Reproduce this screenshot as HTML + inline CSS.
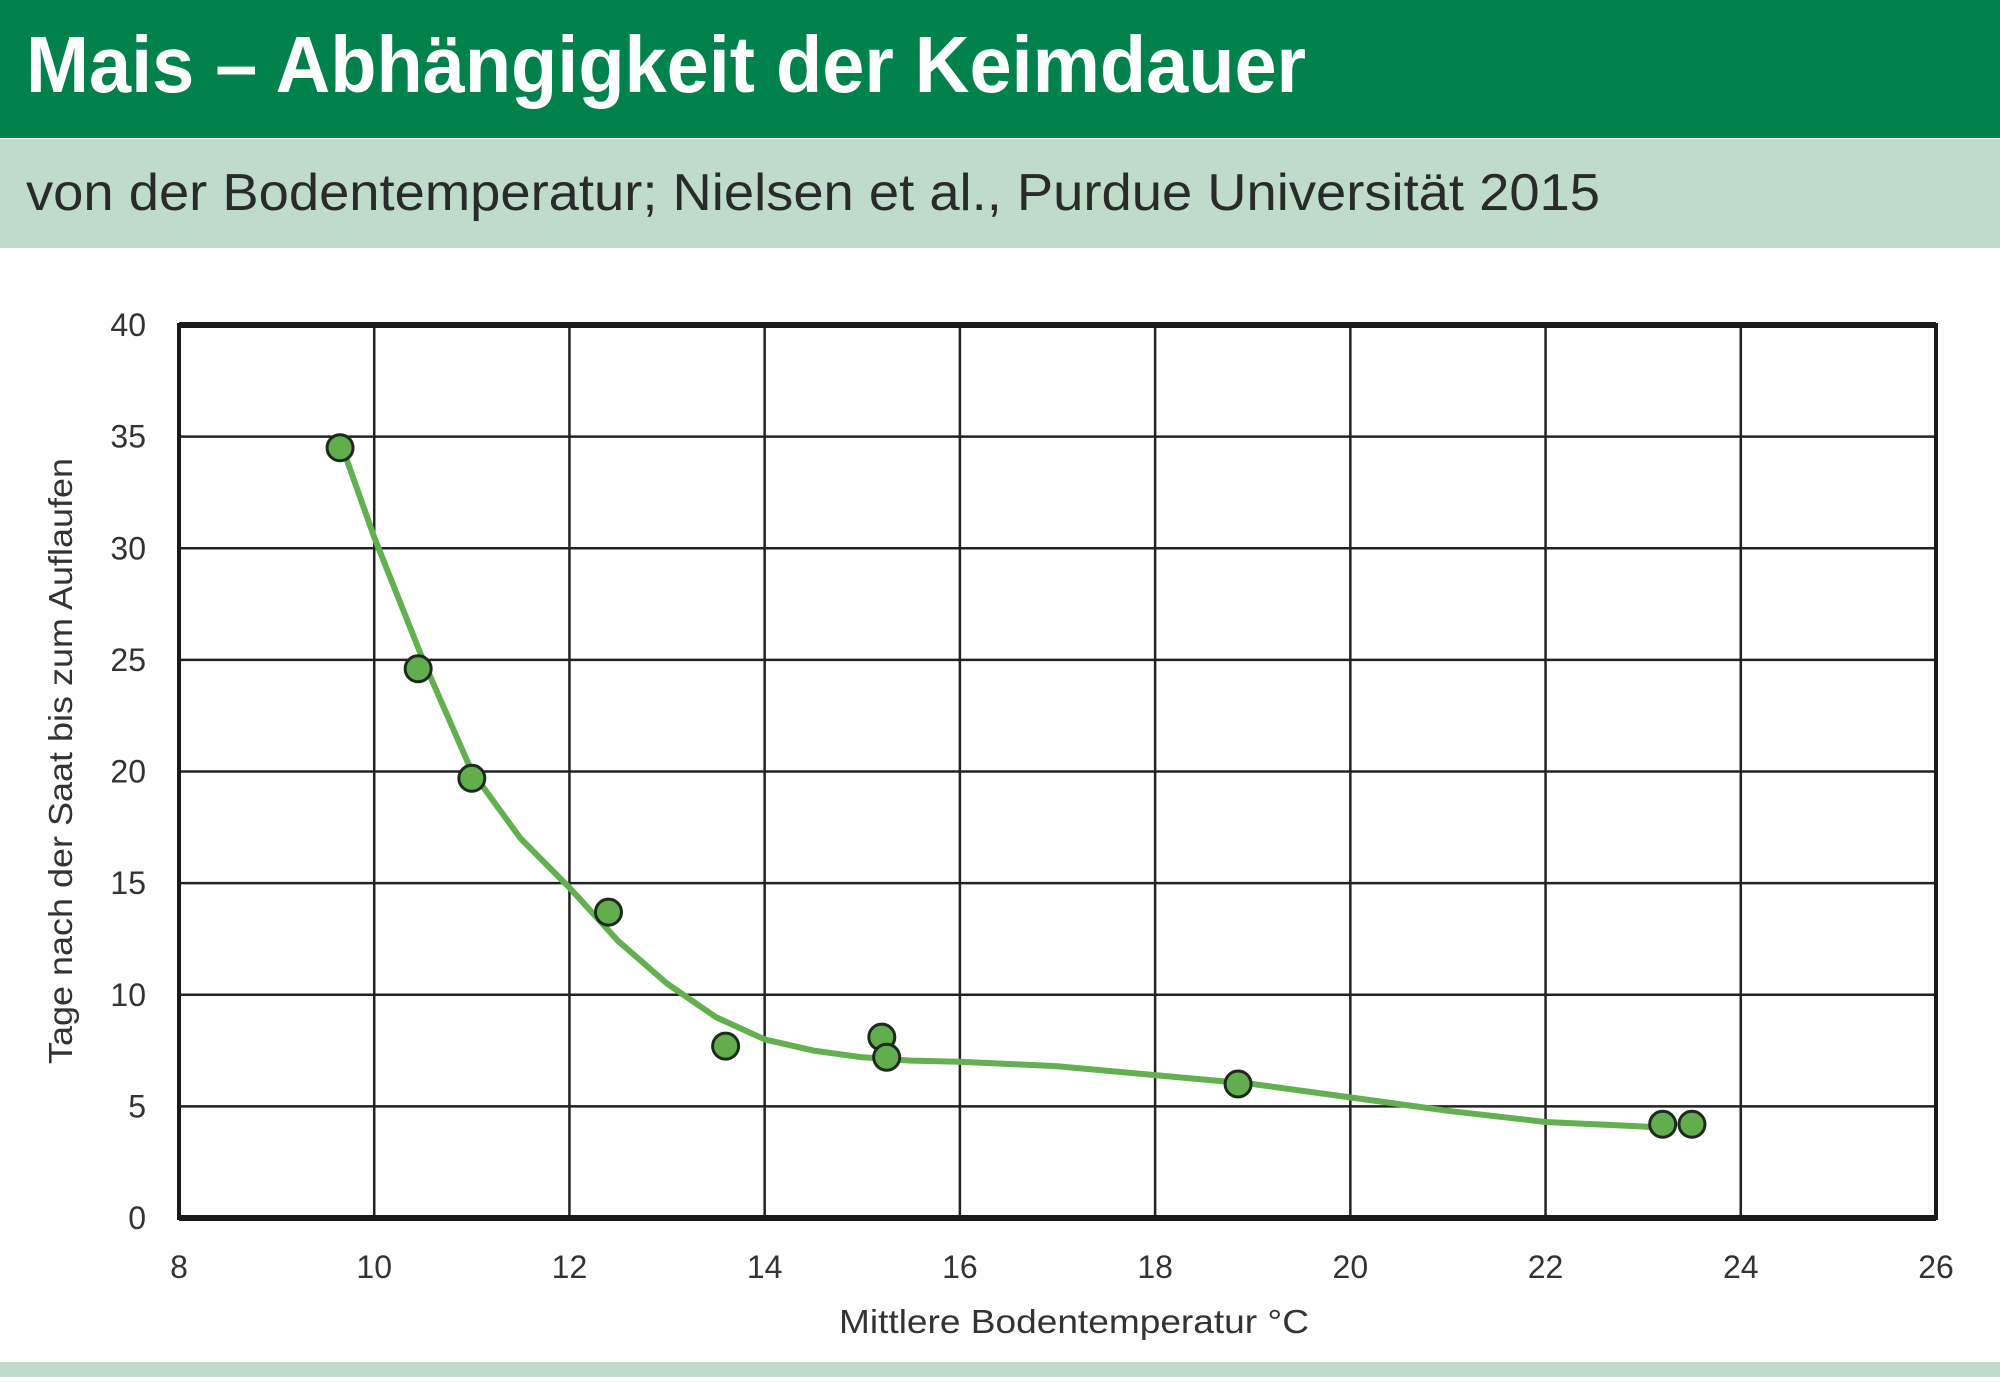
<!DOCTYPE html>
<html><head><meta charset="utf-8"><style>
html,body{margin:0;padding:0;background:#fff}
body{width:2000px;height:1377px;overflow:hidden;position:relative;font-family:"Liberation Sans Narrow","Liberation Sans",sans-serif}
</style></head><body>
<svg width="2000" height="1377" xmlns="http://www.w3.org/2000/svg" id="chart">
<rect x="0" y="0" width="2000" height="138" fill="#00824a"/>
<rect x="0" y="139" width="2000" height="109" fill="#bfdccb"/>
<rect x="0" y="1362" width="2000" height="15" fill="#bfdccb"/>
<text x="26" y="92" font-size="80" font-weight="bold" fill="#fff" textLength="1280" lengthAdjust="spacingAndGlyphs" font-family="Liberation Sans Narrow, Liberation Sans, sans-serif">Mais – Abhängigkeit der Keimdauer</text>
<text x="26" y="210" font-size="52" fill="#2a2a2a" textLength="1574" lengthAdjust="spacingAndGlyphs" font-family="Liberation Sans Narrow, Liberation Sans, sans-serif">von der Bodentemperatur; Nielsen et al., Purdue Universität 2015</text>
<g id="grid"></g>
<g id="axes"></g>
<g id="series"></g>
<text x="1074" y="1333" font-size="33" fill="#333" text-anchor="middle" textLength="470" lengthAdjust="spacingAndGlyphs">Mittlere Bodentemperatur °C</text>
<text transform="translate(72,761) rotate(-90)" font-size="33" fill="#333" text-anchor="middle" textLength="606" lengthAdjust="spacingAndGlyphs">Tage nach der Saat bis zum Auflaufen</text>
</svg>
<script>
const xTicks=[8,10,12,14,16,18,20,22,24,26];
const yTicks=[0,5,10,15,20,25,30,35,40];
const pointX=[9.65,10.45,11.0,12.4,13.6,15.2,15.25,18.85,23.2,23.5];
const pointY=[34.5,24.6,19.7,13.7,7.7,8.1,7.2,6.0,4.2,4.2];
const curveX=[9.7,10,10.5,11,11.5,12,12.5,13,13.5,14,14.5,15,15.5,16,17,18,19,20,21,22,23,23.3];
const curveY=[34.2,30.5,25,20,17,14.8,12.4,10.5,9,8,7.5,7.2,7.05,7.0,6.8,6.4,6.0,5.4,4.8,4.3,4.1,4.0];
const X0=179,X1=1936,Y0=1218,Y1=325;
const sx=v=>X0+(v-8)/(26-8)*(X1-X0);
const sy=v=>Y0-(v/40)*(Y0-Y1);
const NS='http://www.w3.org/2000/svg';
function mk(tag,attrs,parent){const e=document.createElementNS(NS,tag);for(const k in attrs)e.setAttribute(k,attrs[k]);parent.appendChild(e);return e;}
const grid=document.getElementById('grid'),axes=document.getElementById('axes'),series=document.getElementById('series');
xTicks.forEach(t=>{
  const l=mk('line',{x1:sx(t),x2:sx(t),y1:Y1,y2:Y0,stroke:'#222','stroke-width':2.5},grid);
  
  
  const tx=mk('text',{x:sx(t),y:1278,'font-size':32,fill:'#333','text-anchor':'middle'},axes);
  tx.textContent=t;
  
  
});
yTicks.forEach(t=>{
  const l=mk('line',{x1:X0,x2:X1,y1:sy(t),y2:sy(t),stroke:'#222','stroke-width':2.5},grid);
  
  
  const tx=mk('text',{x:146,y:sy(t)+11,'font-size':32,fill:'#333','text-anchor':'end'},axes);
  tx.textContent=t;
  
  
});
const fr=mk('rect',{x:X0,y:Y1,width:X1-X0,height:Y0-Y1,fill:'none',stroke:'#1a1a1a','stroke-width':4},axes);


const tb=mk('line',{x1:X0,x2:X1,y1:Y1,y2:Y1,stroke:'#1a1a1a','stroke-width':6},axes);


const bb=mk('line',{x1:X0,x2:X1,y1:Y0,y2:Y0,stroke:'#1a1a1a','stroke-width':6},axes);


let d='';curveX.forEach((v,i)=>{d+=(i?'L':'M')+sx(v).toFixed(1)+','+sy(curveY[i]).toFixed(1);});
const p=mk('path',{d:d,fill:'none',stroke:'#62b04e','stroke-width':6,'stroke-linejoin':'round','stroke-linecap':'round'},series);


pointX.forEach((v,i)=>{
  const c=mk('circle',{cx:sx(v),cy:sy(pointY[i]),r:13,fill:'#62ae4c',stroke:'#1e2a1e','stroke-width':3},series);
  
  
});
</script>
</body></html>
